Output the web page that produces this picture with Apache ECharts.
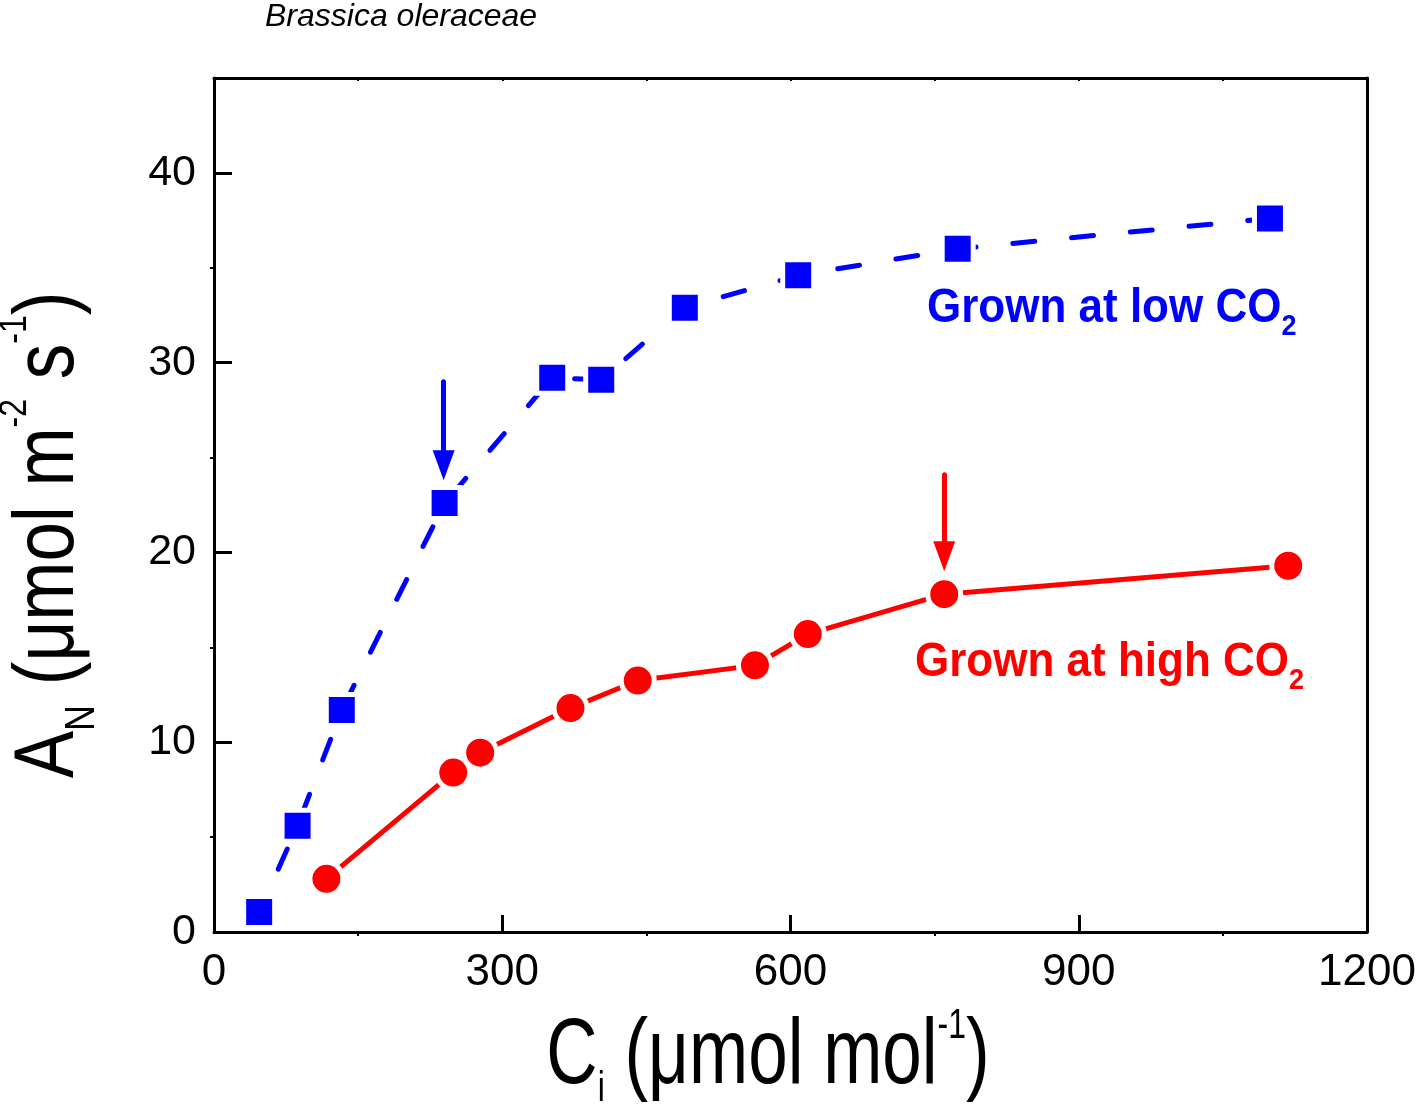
<!DOCTYPE html>
<html><head><meta charset="utf-8">
<script src="https://cdn.jsdelivr.net/npm/echarts@6/dist/echarts.min.js"></script>
<style>html,body{margin:0;padding:0;background:#fff}#c{width:1416px;height:1106px}</style>
</head><body><div id="c"></div>
<script>
// ---- data ----
const lowCO2 = [[47,1.05],[87,5.6],[133,11.7],[240,22.6],[352,29.2],[403,29.1],[490,32.9],[608,34.6],[774,36.0],[1099,37.6]];
const highCO2 = [[117,2.8],[249,8.4],[277,9.45],[371,11.8],[441,13.25],[563,14.05],[618,15.7],[760,17.8],[1118,19.3]];
const xRange = {min:0, max:1200, interval:300};
const yRange = {min:0, max:45, interval:10};
const arrowLow = [[239,29.0],[239,24.6]];
const arrowHigh = [[760,24.1],[760,19.8]];
const speciesLabel = 'Brassica oleraceae';
const lowLabel = 'Grown at low CO';
const highLabel = 'Grown at high CO';

const FF = 'Liberation Sans, Arial, Helvetica, sans-serif';
const BLUE = '#0000ff', RED = '#ff0000';

const chart = echarts.init(document.getElementById('c'), null, {renderer:'canvas'});

const baseX = {type:'value', min:xRange.min, max:xRange.max, interval:xRange.interval, splitLine:{show:false}};
const baseY = {type:'value', min:yRange.min, max:yRange.max, interval:yRange.interval, splitLine:{show:false}};
const plain = v => String(v);

function arrowMark(color, pts) {
  return {
    silent:true, animation:false,
    symbol:['none','triangle'],
    lineStyle:{color:color, width:5, type:'solid', cap:'round'},
    label:{show:false},
    data:[[{coord:pts[0], symbol:'none'},{coord:pts[1], symbol:'triangle', symbolSize:[22,30]}]]
  };
}

chart.setOption({
  animation:false,
  backgroundColor:'#fff',
  grid:{left:214, right:49, top:78, bottom:174, containLabel:false, outerBoundsMode:'none'},
  xAxis:[
    Object.assign({}, baseX, {position:'bottom',
      axisLine:{show:true, onZero:false, lineStyle:{color:'#000', width:3}},
      axisTick:{show:true, inside:true, length:17, lineStyle:{color:'#000', width:3}},
      minorTick:{show:false},
      axisLabel:{show:true, margin:19, color:'#000', fontSize:44, fontFamily:FF, formatter:plain}
    }),
    Object.assign({}, baseX, {position:'top',
      axisLine:{show:true, onZero:false, lineStyle:{color:'#000', width:3}},
      axisTick:{show:true, inside:true, length:3, lineStyle:{color:'#000', width:2}},
      minorTick:{show:true, splitNumber:2, length:3, lineStyle:{color:'#000', width:2}},
      axisLabel:{show:false}
    }),
    Object.assign({}, baseX, {position:'bottom',
      axisLine:{show:false},
      axisTick:{show:false, inside:false},
      minorTick:{show:true, splitNumber:2, length:4, lineStyle:{color:'#000', width:2}},
      axisLabel:{show:false}
    })
  ],
  yAxis:[
    Object.assign({}, baseY, {position:'left',
      axisLine:{show:true, onZero:false, lineStyle:{color:'#000', width:3}},
      axisTick:{show:true, inside:true, length:18, lineStyle:{color:'#000', width:3}},
      minorTick:{show:false},
      axisLabel:{show:true, margin:18, showMaxLabel:false, color:'#000', fontSize:43, fontFamily:FF, formatter:plain}
    }),
    Object.assign({}, baseY, {position:'right',
      axisLine:{show:true, onZero:false, lineStyle:{color:'#000', width:3}},
      axisTick:{show:false},
      minorTick:{show:false},
      axisLabel:{show:false}
    }),
    Object.assign({}, baseY, {position:'left',
      axisLine:{show:false},
      axisTick:{show:false, inside:false},
      minorTick:{show:true, splitNumber:2, length:4, lineStyle:{color:'#000', width:2}},
      axisLabel:{show:false}
    })
  ],
  series:[
    {
      type:'line', name:'low', xAxisIndex:0, yAxisIndex:0, data:lowCO2, z:3,
      symbol:'rect', symbolSize:31,
      itemStyle:{color:BLUE, borderColor:'#fff', borderWidth:5},
      lineStyle:{color:BLUE, width:5, type:[22,37], dashOffset:12, cap:'round'},
      emphasis:{disabled:true}, silent:true,
      markLine:arrowMark(BLUE, arrowLow)
    },
    {
      type:'line', name:'high', xAxisIndex:0, yAxisIndex:0, data:highCO2, z:2,
      symbol:'circle', symbolSize:33,
      itemStyle:{color:RED, borderColor:'#fff', borderWidth:5},
      lineStyle:{color:RED, width:5, type:'solid', cap:'round'},
      emphasis:{disabled:true}, silent:true,
      markLine:arrowMark(RED, arrowHigh)
    }
  ],
  graphic:[
    {type:'text', x:265, y:17, silent:true,
      style:{text:speciesLabel, fill:'#000', fontSize:32, fontStyle:'italic', fontFamily:FF,
        align:'left', verticalAlign:'middle', textAlign:'left', textVerticalAlign:'middle'}},
    {type:'text', x:927, y:309, scaleY:1.08, silent:true,
      style:{text:'{m|'+lowLabel+'}{s|2}', align:'left', verticalAlign:'middle', textAlign:'left', textVerticalAlign:'middle',
        rich:{
          m:{fill:BLUE, fontSize:44, fontWeight:'bold', fontFamily:FF, lineHeight:60},
          s:{fill:BLUE, fontSize:27, fontWeight:'bold', fontFamily:FF, lineHeight:10, verticalAlign:'bottom'}
        }}},
    {type:'text', x:915, y:663, scaleY:1.08, silent:true,
      style:{text:'{m|'+highLabel+'}{s|2}', align:'left', verticalAlign:'middle', textAlign:'left', textVerticalAlign:'middle',
        rich:{
          m:{fill:RED, fontSize:44, fontWeight:'bold', fontFamily:FF, lineHeight:60},
          s:{fill:RED, fontSize:27, fontWeight:'bold', fontFamily:FF, lineHeight:10, verticalAlign:'bottom'}
        }}},
    {type:'text', x:768, y:1058, scaleY:1.3, silent:true,
      style:{text:'{m|C}{sub|i}{m| (μmol mol}{sup|-1}{m|)}', align:'center', verticalAlign:'middle', textAlign:'center', textVerticalAlign:'middle',
        rich:{
          m:{fill:'#000', fontSize:71, fontFamily:FF, lineHeight:80},
          sub:{fill:'#000', fontSize:32, fontFamily:FF, lineHeight:29, verticalAlign:'bottom'},
          sup:{fill:'#000', fontSize:32, fontFamily:FF, lineHeight:64, verticalAlign:'top'}
        }}},
    {type:'text', x:50, y:535, rotation:Math.PI/2, scaleY:1.2, silent:true,
      style:{text:'{m|A}{sub|N}{m| (μmol m}{sup|-2}{m| s}{sup|-1}{m|)}', align:'center', verticalAlign:'middle', textAlign:'center', textVerticalAlign:'middle',
        rich:{
          m:{fill:'#000', fontSize:71, fontFamily:FF, lineHeight:90},
          sub:{fill:'#000', fontSize:36, fontFamily:FF, lineHeight:46, verticalAlign:'bottom'},
          sup:{fill:'#000', fontSize:32, fontFamily:FF, lineHeight:32, verticalAlign:'top'}
        }}}
  ]
});
</script>
</body></html>
